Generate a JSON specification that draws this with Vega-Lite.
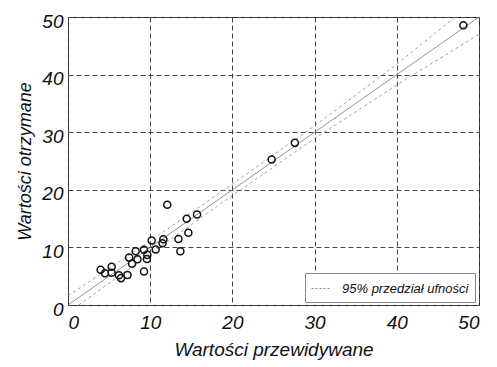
{
  "$schema": "https://vega.github.io/schema/vega-lite/v6.json",
  "width": 411,
  "height": 288,
  "autosize": "none",
  "padding": {"left": 68, "top": 17, "right": 18, "bottom": 62},
  "background": "white",
  "config": {
    "font": "Liberation Sans",
    "view": {"stroke": "#222", "strokeWidth": 1},
    "axis": {
      "grid": true, "gridDash": [5, 3], "gridColor": "#444", "gridWidth": 1, "gridOpacity": 1,
      "domain": false, "ticks": false,
      "labelFont": "Liberation Sans", "labelFontStyle": "italic", "labelFontSize": 19, "labelColor": "#111",
      "titleFont": "Liberation Sans", "titleFontStyle": "italic", "titleFontWeight": "normal", "titleColor": "#111"
    }
  },
  "datasets": {
    "pts": [
      {"x": 3.97, "y": 6.12}, {"x": 4.5, "y": 5.5}, {"x": 5.31, "y": 6.64}, {"x": 5.31, "y": 5.6},
      {"x": 6.2, "y": 5.15}, {"x": 6.45, "y": 4.67}, {"x": 7.24, "y": 5.2}, {"x": 7.44, "y": 8.23},
      {"x": 7.8, "y": 7.17}, {"x": 8.23, "y": 9.33}, {"x": 8.45, "y": 7.95}, {"x": 9.25, "y": 9.6},
      {"x": 9.25, "y": 5.83}, {"x": 9.65, "y": 8.7}, {"x": 9.6, "y": 7.98}, {"x": 10.18, "y": 11.2},
      {"x": 10.67, "y": 9.62}, {"x": 11.5, "y": 10.73}, {"x": 11.6, "y": 11.4}, {"x": 12.08, "y": 17.4},
      {"x": 13.44, "y": 11.46}, {"x": 13.67, "y": 9.33}, {"x": 14.44, "y": 14.96}, {"x": 14.64, "y": 12.55},
      {"x": 15.7, "y": 15.7}, {"x": 24.78, "y": 25.25}, {"x": 27.6, "y": 28.15}, {"x": 48.1, "y": 48.56}
    ],
    "diag": [{"x": 0, "y": 0}, {"x": 50, "y": 50}],
    "ci": [
      {"band": "upper", "series": "95% przedział ufności", "x": 0, "y": 1.6},
      {"band": "upper", "series": "95% przedział ufności", "x": 10, "y": 11.1},
      {"band": "upper", "series": "95% przedział ufności", "x": 20, "y": 21.0},
      {"band": "upper", "series": "95% przedział ufności", "x": 30, "y": 31.1},
      {"band": "upper", "series": "95% przedział ufności", "x": 40, "y": 41.8},
      {"band": "upper", "series": "95% przedział ufności", "x": 47.1, "y": 50},
      {"band": "lower", "series": "95% przedział ufności", "x": 1.3, "y": 0},
      {"band": "lower", "series": "95% przedział ufności", "x": 10, "y": 8.9},
      {"band": "lower", "series": "95% przedział ufności", "x": 20, "y": 19.0},
      {"band": "lower", "series": "95% przedział ufności", "x": 30, "y": 28.9},
      {"band": "lower", "series": "95% przedział ufności", "x": 40, "y": 38.2},
      {"band": "lower", "series": "95% przedział ufności", "x": 50, "y": 47.0}
    ]
  },
  "encoding": {
    "x": {
      "field": "x", "type": "quantitative",
      "scale": {"domain": [0, 50], "nice": false, "zero": false},
      "axis": {"values": [0, 10, 20, 30, 40, 50], "labelPadding": 8, "title": "Wartości przewidywane", "titleFontSize": 19, "titlePadding": 8}
    },
    "y": {
      "field": "y", "type": "quantitative",
      "scale": {"domain": [0, 50], "nice": false, "zero": false},
      "axis": {"values": [0, 10, 20, 30, 40, 50], "labelPadding": 5, "labelOffset": 4, "title": "Wartości otrzymane", "titleFontSize": 18, "titlePadding": 7}
    }
  },
  "layer": [
    {
      "data": {"name": "diag"},
      "mark": {"type": "line", "color": "#777", "strokeWidth": 0.8, "clip": true}
    },
    {
      "data": {"name": "ci"},
      "mark": {"type": "line", "strokeWidth": 0.8, "strokeDash": [3, 3], "clip": true},
      "encoding": {
        "detail": {"field": "band", "type": "nominal"},
        "order": {"field": "x", "type": "quantitative"},
        "color": {
          "field": "series", "type": "nominal",
          "scale": {"range": ["#888"]},
          "legend": {
            "orient": "none", "legendX": 237, "legendY": 256, "title": null,
            "symbolType": "stroke", "symbolSize": 324, "symbolStrokeWidth": 1, "symbolDash": [2, 2],
            "labelFont": "Liberation Sans", "labelFontStyle": "italic", "labelFontSize": 13, "labelColor": "#111",
            "labelOffset": 12, "padding": 6, "strokeColor": "#888", "fillColor": "white", "cornerRadius": 0
          }
        }
      }
    },
    {
      "data": {"name": "pts"},
      "mark": {"type": "point", "shape": "circle", "filled": false, "size": 50, "strokeWidth": 1.5, "color": "#111", "opacity": 1}
    }
  ]
}
